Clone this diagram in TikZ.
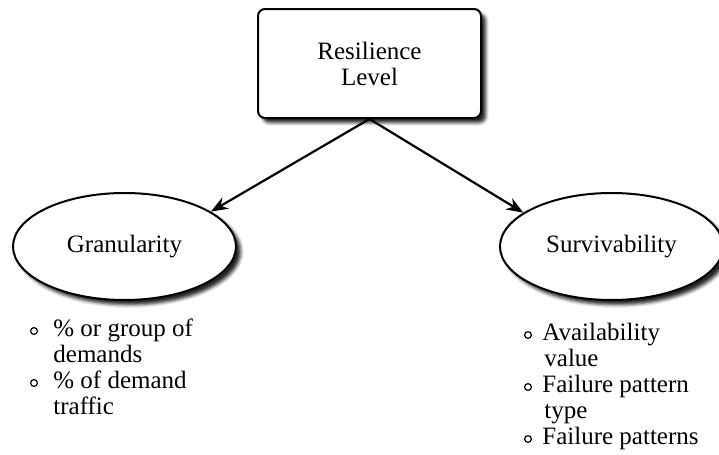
\documentclass[tikz,border=0pt]{standalone}
\usepackage{fontspec}
\setmainfont{Liberation Serif}
\usetikzlibrary{shapes.geometric,shadows.blur,arrows.meta}

\tikzset{
  every node/.style={font=\fontsize{12.5}{13}\selectfont},
  soft shadow/.style={blur shadow={shadow xshift=2.4pt,shadow yshift=-2.4pt,
      shadow blur radius=1.6pt,shadow opacity=85}},
  levelbox/.style={draw,line width=1pt,rounded corners=3.5pt,fill=white,
      minimum width=111.5pt,minimum height=54.5pt,inner sep=0pt,
      align=center,soft shadow},
  aspect/.style={draw,ellipse,line width=1pt,fill=white,
      minimum width=111.5pt,minimum height=53.5pt,inner sep=0pt,soft shadow},
  link/.style={-{Stealth[length=8.5pt,width=6.5pt]},line width=1.1pt},
  bullet/.style={draw,circle,line width=0.6pt,minimum size=3.4pt,inner sep=0pt},
  itemline/.style={anchor=base west,inner sep=0pt}
}

\begin{document}
\begin{tikzpicture}[x=0.5pt,y=-0.5pt]
\useasboundingbox (0,0) rectangle (719,455);

% top box
\node[levelbox] (level) at (369.5,63.5) {Resilience\\Level};

% the two aspects
\node[aspect] (gran) at (124.5,246.5) {Granularity};
\node[aspect] (surv) at (611.5,246.5) {Survivability};

\draw[link] (level.south) -- (gran.22);
\draw[link] (level.south) -- (surv.159);

% list under Granularity
\node[bullet] (gb1) at (34,331) {};
\node[itemline] (g1) at (53,336) {\% or group of};
\node[itemline] (g1b) at (53,362) {demands};
\node[bullet] (gb2) at (34,383) {};
\node[itemline] (g2) at (53,388) {\% of demand};
\node[itemline] (g2b) at (53,414) {traffic};

% list under Survivability
\node[bullet] (sb1) at (528,335) {};
\node[itemline] (s1) at (542,340) {Availability};
\node[itemline] (s1b) at (544,366) {value};
\node[bullet] (sb2) at (528,387) {};
\node[itemline] (s2) at (542,392) {Failure pattern};
\node[itemline] (s2b) at (544,418) {type};
\node[bullet] (sb3) at (528,439) {};
\node[itemline] (s3) at (542,444) {Failure patterns};

\end{tikzpicture}
\end{document}
